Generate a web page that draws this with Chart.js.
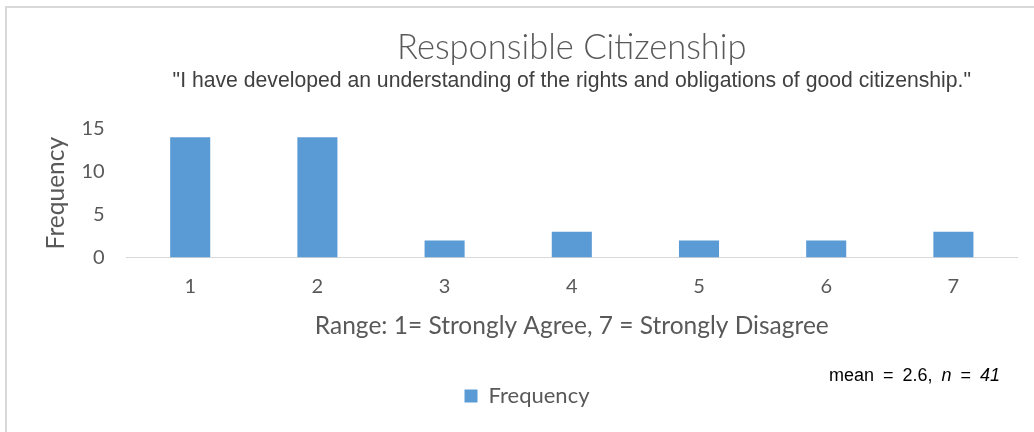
<!DOCTYPE html>
<html>
<head>
<meta charset="utf-8">
<script src="https://cdn.jsdelivr.net/npm/chart.js@4.4.1/dist/chart.umd.min.js"></script>
<style>
  html, body { margin: 0; padding: 0; background: #fff; }
  #frame { position: absolute; left: 5px; top: 6px; width: 1100px; height: 500px; border: 2px solid #d9d9d9; }
  #wrap { position: absolute; left: 0; top: 0; width: 1034px; height: 432px; }
</style>
</head>
<body>
<div id="frame"></div>
<div id="wrap"><canvas id="chart" width="1034" height="432"></canvas></div>
<script>
// data
var categories = ["1", "2", "3", "4", "5", "6", "7"];
var frequency = [14, 14, 2, 3, 2, 2, 3];
var yTicks = [0, 5, 10, 15];
var meanValue = "2.6";
var nValue = "41";

var grey = "#595959";

// mean / n note under the plot
var notePlugin = {
    id: "note",
    afterDraw: function (chart) {
        var c = chart.ctx;
        c.save();
        c.fillStyle = "#000";
        c.textBaseline = "middle";
        c.wordSpacing = "4px";
        var x = 829, y = 376;
        var parts = [
            ["mean = " + meanValue + ", ", "normal"],
            ["n", "italic"],
            [" = ", "normal"],
            [nValue, "italic"]
        ];
        parts.forEach(function (p) {
            c.font = p[1] + " 18px 'Liberation Sans', Arial, sans-serif";
            c.fillText(p[0], x, y);
            x += c.measureText(p[0]).width;
        });
        c.restore();
    }
};

var ctx = document.getElementById("chart").getContext("2d");
var myChart = new Chart(ctx, {
    type: "bar",
    data: {
        labels: categories,
        datasets: [{
            label: "Frequency",
            data: frequency,
            backgroundColor: "#5B9BD5",
            categoryPercentage: 1,
            barPercentage: 0.315
        }]
    },
    options: {
        responsive: false,
        animation: false,
        layout: { padding: { left: 37, right: 17, top: 0, bottom: 15 } },
        scales: {
            x: {
                grid: { display: false },
                border: { display: true, color: "#d9d9d9", width: 1 },
                ticks: { color: grey, font: { family: "Lato", size: 20 }, padding: 9 },
                title: {
                    display: true,
                    text: "Range: 1= Strongly Agree, 7 = Strongly Disagree",
                    color: grey,
                    font: { family: "Lato", size: 24.5 },
                    padding: { top: 4, bottom: 34 }
                }
            },
            y: {
                min: 0,
                max: 15,
                grid: { display: false },
                border: { display: false },
                afterBuildTicks: function (axis) {
                    axis.ticks = yTicks.map(function (v) { return { value: v }; });
                },
                ticks: { color: grey, font: { family: "Lato", size: 20 }, padding: 14 },
                title: {
                    display: true,
                    text: "Frequency",
                    color: grey,
                    font: { family: "Lato", size: 24.5 },
                    padding: { top: 4, bottom: -3 }
                }
            }
        },
        plugins: {
            title: {
                display: true,
                fullSize: false,
                text: "Responsible Citizenship",
                color: grey,
                font: { family: "Lato", size: 34.5, weight: "300", lineHeight: 1 },
                padding: { top: 31, bottom: 5 }
            },
            subtitle: {
                display: true,
                fullSize: false,
                text: "\"I have developed an understanding of the rights and obligations of good citizenship.\"",
                color: "#404040",
                font: { family: "'Liberation Sans', Arial, sans-serif", size: 21.2, lineHeight: 1 },
                padding: { top: 0, bottom: 37 }
            },
            legend: {
                position: "bottom",
                labels: {
                    color: grey,
                    font: { family: "Lato", size: 22 },
                    boxWidth: 13,
                    boxHeight: 13,
                    padding: 10
                }
            },
            tooltip: { enabled: false }
        }
    },
    plugins: [notePlugin]
});
</script>
</body>
</html>
